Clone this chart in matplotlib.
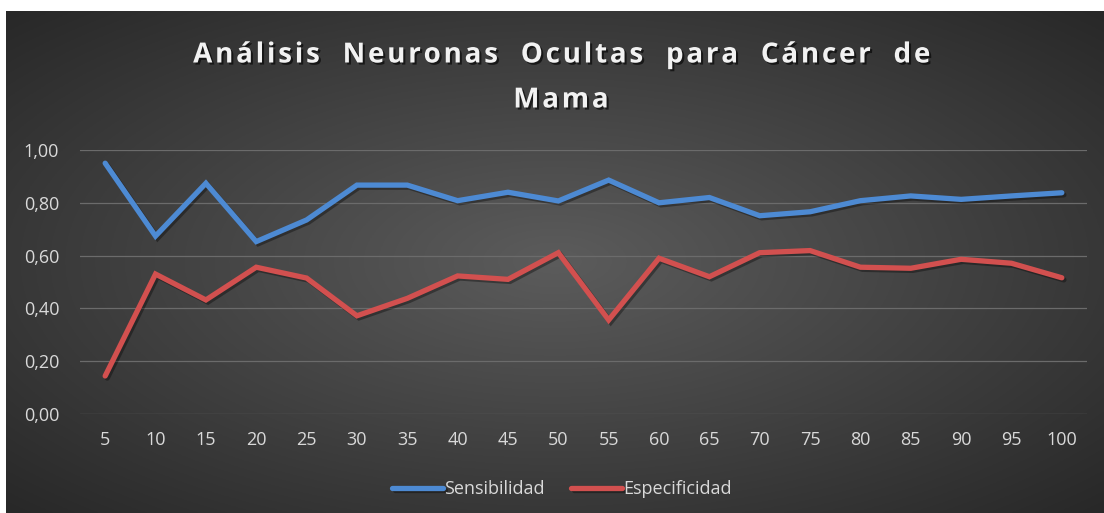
import matplotlib
matplotlib.use("Agg")
import matplotlib.pyplot as plt
import matplotlib.patheffects as pe
from matplotlib.ticker import FuncFormatter
import numpy as np

neuronas = [5, 10, 15, 20, 25, 30, 35, 40, 45, 50,
            55, 60, 65, 70, 75, 80, 85, 90, 95, 100]
sensibilidad = [0.95, 0.674, 0.874, 0.653, 0.735, 0.867, 0.867, 0.808, 0.84, 0.807,
                0.886, 0.80, 0.82, 0.751, 0.766, 0.808, 0.826, 0.813, 0.826, 0.838]
especificidad = [0.144, 0.53, 0.432, 0.556, 0.515, 0.372, 0.438, 0.523, 0.51, 0.611,
                 0.356, 0.59, 0.52, 0.611, 0.619, 0.556, 0.552, 0.586, 0.571, 0.516]

W, H = 1104, 513
fig = plt.figure(figsize=(W / 100, H / 100), dpi=100, facecolor="white")

# dark radial background of the chart area
left, top = 6 / W, 11 / H
bg = fig.add_axes([left, 0, 1 - left, 1 - top], zorder=0)
yy, xx = np.mgrid[-1:1:300j, -1:1:600j]
r = np.sqrt((xx * 0.9) ** 2 + (yy * 0.9) ** 2)
shade = np.clip(0.36 - 0.16 * r, 0.15, 0.36)
bg.imshow(np.dstack([shade] * 3), aspect="auto", extent=[0, 1, 0, 1])
bg.set_axis_off()

ax = fig.add_axes([80 / W, 1 - 414 / H, (1087 - 80) / W, (414 - 150) / H], zorder=1)
ax.set_facecolor("none")
x = np.arange(len(neuronas))

shadow = [pe.SimpleLineShadow(offset=(1.5, -1.5), alpha=0.35), pe.Normal()]
ax.plot(x, sensibilidad, color="#4d8ad3", lw=3.8, solid_joinstyle="miter",
        solid_capstyle="round", label="Sensibilidad", path_effects=shadow)
ax.plot(x, especificidad, color="#d2504f", lw=3.8, solid_joinstyle="miter",
        solid_capstyle="round", label="Especificidad", path_effects=shadow)

ax.set_xlim(-0.5, len(neuronas) - 0.5)
ax.set_ylim(0, 1.0)
ax.set_yticks(np.arange(0, 1.01, 0.2))
ax.yaxis.set_major_formatter(FuncFormatter(lambda v, p: f"{v:.2f}".replace(".", ",")))
ax.set_xticks(x)
ax.set_xticklabels([str(n) for n in neuronas])
ax.grid(axis="y", color="#6b6b6b", lw=0.9)
ax.set_axisbelow(True)
for s in ax.spines.values():
    s.set_visible(False)
ax.tick_params(length=0, colors="#d9d9d9", labelsize=13)
ax.tick_params(axis="y", pad=15)
ax.tick_params(axis="x", pad=12)
for lab in ax.get_xticklabels() + ax.get_yticklabels():
    lab.set_fontfamily("Open Sans")
    lab.set_color("#d9d9d9")


def spaced(s):
    # widen the letter tracking like the original title
    return "\u200a".join(s)


title_fx = [pe.withSimplePatchShadow(offset=(1.5, -1.5), shadow_rgbFace="black", alpha=0.6)]
for txt, ypix in [("Análisis  Neuronas  Ocultas  para  Cáncer  de", 55), ("Mama", 100)]:
    fig.text(0.508, 1 - ypix / H, spaced(txt),
             ha="center", va="center", fontsize=20, fontweight="bold",
             family=["Open Sans", "DejaVu Sans"],
             color="#f2f2f2", path_effects=title_fx)

leg = fig.legend(loc="center", bbox_to_anchor=(0.509, 1 - 489 / H), ncol=2,
                 frameon=False, handlelength=2.8, handletextpad=0.05, columnspacing=1.5,
                 prop={"family": "Open Sans", "size": 13})
for t in leg.get_texts():
    t.set_color("#d9d9d9")

fig.savefig("out.png", dpi=100, facecolor="white")
